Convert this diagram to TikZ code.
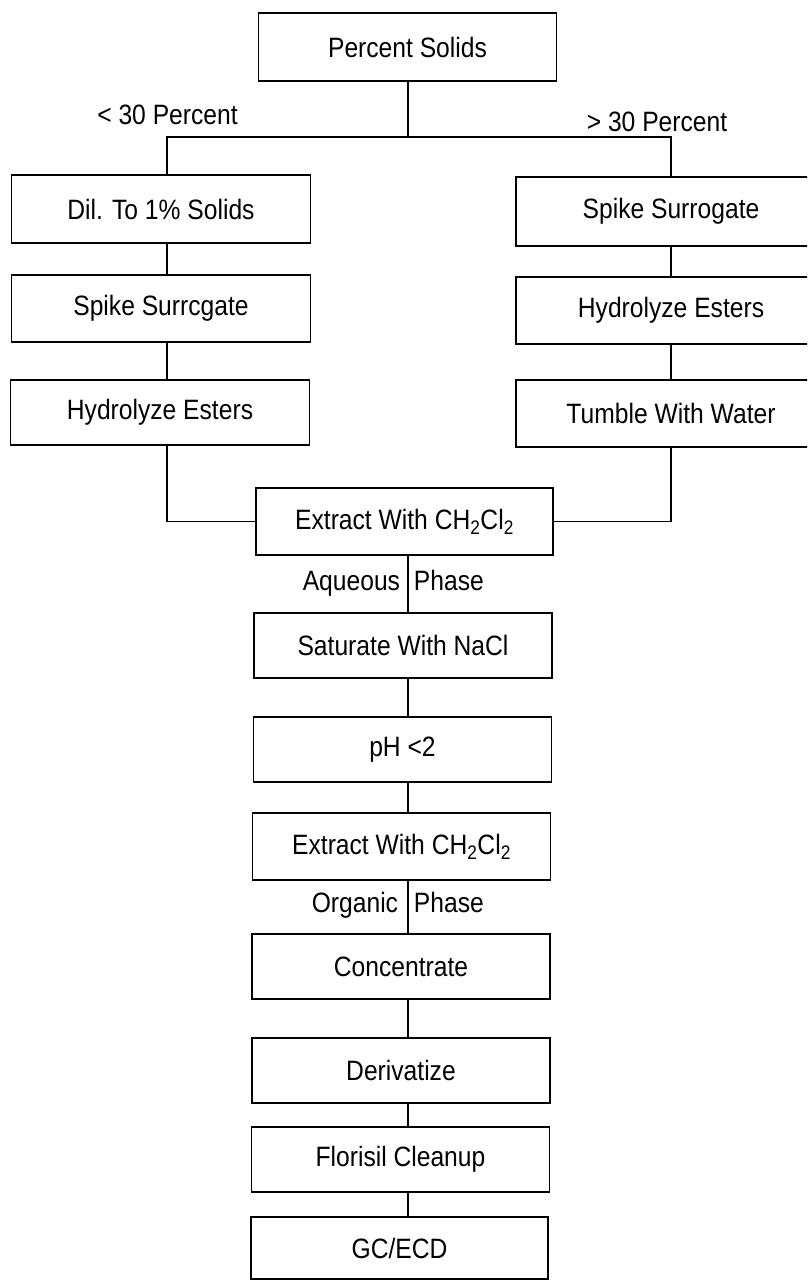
\documentclass[tikz,border=0pt]{standalone}
\usepackage{fontspec}
\setmainfont{Liberation Sans}[FakeStretch=0.88]
\begin{document}
\begin{tikzpicture}[x=1pt,y=-1pt,
  line width=1.9pt,
  every node/.style={font=\fontsize{28}{32}\selectfont},
  stepbox/.style={draw, inner sep=0pt, minimum width=298pt, minimum height=66pt, line width=1.9pt},
  lbl/.style={inner sep=0pt}]
\useasboundingbox (0,0) rectangle (807,1281);
\clip (0,0) rectangle (807,1281);
% column coordinates
\coordinate (bl) at (167,137);
\coordinate (br) at (671,137);
\coordinate (bc) at (408,137);
% nodes
\node[stepbox, minimum height=68pt] (top) at (407.5,47) {Percent Solids};
\node[stepbox, minimum width=299pt, minimum height=68pt] (dil) at (161,209) {Dil. To 1\% Solids};
\node[stepbox, minimum width=299pt, minimum height=67pt] (spikeL) at (161,308.5) {Spike Surrcgate};
\node[stepbox, minimum width=299pt, minimum height=65pt] (hydL) at (160,412.5) {Hydrolyze Esters};
\node[stepbox, minimum width=310pt, minimum height=69pt] (spikeR) at (671,211.5) {Spike Surrogate};
\node[stepbox, minimum width=310pt, minimum height=67pt] (hydR) at (671,310.5) {Hydrolyze Esters};
\node[stepbox, minimum width=310pt, minimum height=67pt] (tumble) at (671,413.5) {Tumble With Water};
\node[stepbox, minimum width=297pt, minimum height=67pt] (ext1) at (404.5,521.5) {Extract With CH\textsubscript{2}Cl\textsubscript{2}};
\node[stepbox, minimum height=65pt] (sat) at (403,645.5) {Saturate With NaCl};
\node[stepbox, minimum height=65pt] (ph) at (402.5,749.5) {pH <2};
\node[stepbox, minimum height=67pt] (ext2) at (401.5,846.5) {Extract With CH\textsubscript{2}Cl\textsubscript{2}};
\node[stepbox, minimum height=65pt] (conc) at (401,966.5) {Concentrate};
\node[stepbox, minimum height=65pt] (deriv) at (401,1070.5) {Derivatize};
\node[stepbox, minimum height=65pt] (flor) at (400.5,1159.5) {Florisil Cleanup};
\node[stepbox, minimum width=297pt, minimum height=62pt] (gc) at (399.5,1248) {GC/ECD};
% labels
\node[lbl, anchor=base] (lt30) at (167.5,125) {< 30 Percent};
\node[lbl, anchor=base] (gt30) at (657,132) {> 30 Percent};
\node[lbl, anchor=base east] (aq) at (401,590) {Aqueous};
\node[lbl, anchor=base west] (ph1) at (413,590) {Phase};
\node[lbl, anchor=base east] (org) at (399,912) {Organic};
\node[lbl, anchor=base west] (ph2) at (413,912) {Phase};
% connectors
\draw (top.south -| bc) -- (bc);
\draw (dil.north -| bl) -- (bl) -- (br) -- (spikeR.north -| br);
\draw (dil.south -| bl) -- (spikeL.north -| bl);
\draw (spikeL.south -| bl) -- (hydL.north -| bl);
\draw (spikeR.south -| br) -- (hydR.north -| br);
\draw (hydR.south -| br) -- (tumble.north -| br);
\draw (hydL.south -| bl) |- (ext1.west);
\draw (tumble.south -| br) |- (ext1.east);
\draw (ext1.south -| bc) -- (sat.north -| bc);
\draw (sat.south -| bc) -- (ph.north -| bc);
\draw (ph.south -| bc) -- (ext2.north -| bc);
\draw (ext2.south -| bc) -- (conc.north -| bc);
\draw (conc.south -| bc) -- (deriv.north -| bc);
\draw (deriv.south -| bc) -- (flor.north -| bc);
\draw (flor.south -| bc) -- (gc.north -| bc);
\end{tikzpicture}
\end{document}
